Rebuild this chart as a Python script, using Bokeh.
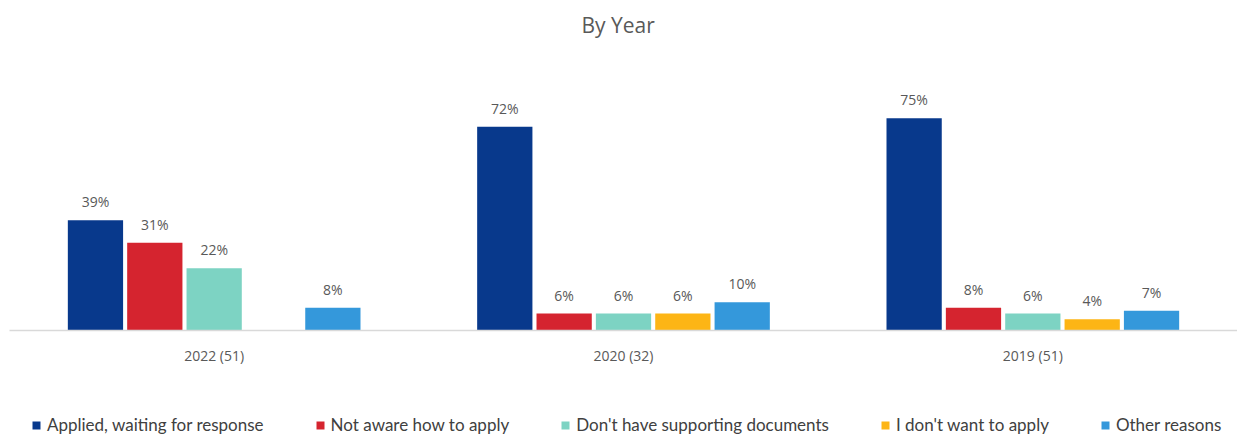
from bokeh.plotting import figure
from bokeh.layouts import column
from bokeh.models import ColumnDataSource, FactorRange, Legend, LegendItem
from bokeh.transform import dodge
from bokeh.core.properties import value
from bokeh.embed import file_html
from bokeh.resources import INLINE

years = ["2022 (51)", "2020 (32)", "2019 (51)"]
series_names = ["Applied, waiting for response", "Not aware how to apply",
                "Don't have supporting documents", "I don't want to apply", "Other reasons"]
applied = [39, 72, 75]
not_aware = [31, 6, 8]
no_docs = [22, 6, 6]
dont_want = [float("nan"), 6, 4]
other = [8, 10, 7]
colors = ["#08398c", "#d5242f", "#7dd3c3", "#fdb515", "#3498db"]

all_series = [applied, not_aware, no_docs, dont_want, other]

p = figure(frame_width=1228, frame_height=283, x_range=FactorRange(*years), y_range=(0, 100),
           output_backend="svg", toolbar_location=None,
           min_border_left=9, min_border_right=0, min_border_top=0, min_border_bottom=55)
p.title.text = "By Year"
p.title.align = "left"
p.title.offset = 572
p.title.text_font = "Open Sans"
p.title.text_font_size = "21px"
p.title.text_font_style = "normal"
p.title.text_color = "#595959"
p.title.standoff = 17

pitch = 0.145
for i, (vals, col) in enumerate(zip(all_series, colors)):
    off = (i - 2) * pitch
    labels = ["" if v != v else f"{int(v)}%" for v in vals]
    src = ColumnDataSource(dict(x=years, y=vals, lab=labels))
    p.vbar(x=dodge("x", off, range=p.x_range), top="y", width=0.135, source=src,
           fill_color=col, line_color=None)
    p.text(x=dodge("x", off, range=p.x_range), y="y", text="lab", source=src,
           text_align="center", text_baseline="bottom", y_offset=-9,
           text_font=value("Open Sans"), text_font_size="14px", text_color="#595959")

p.xgrid.visible = False
p.ygrid.visible = False
p.yaxis.visible = False
p.outline_line_color = None
p.xaxis.axis_line_color = "#d9d9d9"
p.xaxis.axis_line_width = 1.5
p.xaxis.major_tick_line_color = None
p.xaxis.minor_tick_line_color = None
p.xaxis.major_label_standoff = 9
p.xaxis.major_label_text_font = "Open Sans"
p.xaxis.major_label_text_font_size = "14px"
p.xaxis.major_label_text_color = "#595959"
p.x_range.range_padding = 0
p.x_range.group_padding = 0

# legend strip
lg = figure(width=1237, height=50, x_range=(0, 1), y_range=(0, 1),
            output_backend="svg", toolbar_location=None,
            min_border_left=0, min_border_right=0, min_border_top=0, min_border_bottom=0)
lg.axis.visible = False
lg.grid.visible = False
lg.outline_line_color = None
items = []
for name, col in zip(series_names, colors):
    r = lg.vbar(x=[0.5], top=[0], bottom=[0], width=0.01, fill_color=col, line_color=None)
    items.append(LegendItem(label=name, renderers=[r]))
legend = Legend(items=items, orientation="horizontal", location=(22, 0),
                spacing=51, glyph_width=10, glyph_height=10, label_standoff=6,
                label_text_font="Lato", label_text_font_size="17px",
                label_text_color="#404040", border_line_color=None,
                background_fill_alpha=0, padding=0, margin=0, label_height=18)
lg.add_layout(legend, "center")

open("out.html", "w").write(file_html(column(p, lg, spacing=0), INLINE))
